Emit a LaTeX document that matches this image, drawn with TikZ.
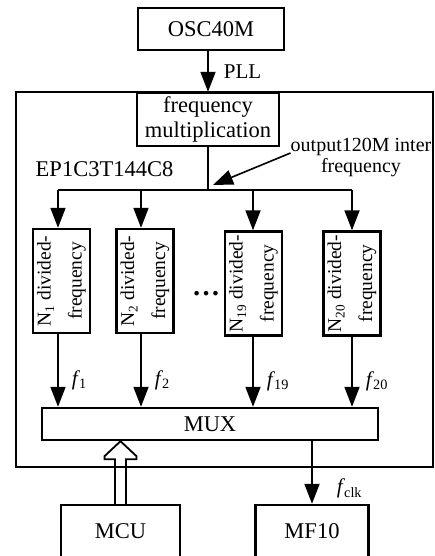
\documentclass[tikz,border=0pt]{standalone}
\usepackage{fontspec}
\usepackage{graphicx}
\setmainfont{Liberation Serif}
\usetikzlibrary{arrows.meta,positioning}
\newcommand\lowsub[1]{\raisebox{-.4ex}{\scalebox{.68}{#1}}}
\begin{document}
\begin{tikzpicture}[x=1pt,y=-1pt,>={Triangle[length=20pt,width=15pt]},
  blk/.style={draw,line width=2.4pt,inner sep=0pt,font=\fontsize{22.5}{25}\selectfont},
  divbox/.style={draw,line width=2.4pt,rotate=90,inner sep=0pt,minimum width=104pt,
    minimum height=57pt,align=center,font=\fontsize{19.5}{31}\selectfont},
  wire/.style={line width=1.8pt},
  lbl/.style={inner sep=0pt,font=\fontsize{21}{25}\selectfont}]
\useasboundingbox (0,0) rectangle (435,556);

% FPGA frame
\node[draw,line width=2.4pt,minimum width=417pt,minimum height=375pt] (chip) at (224.5,279.5) {};
\node[lbl,font=\fontsize{22.5}{25}\selectfont] (chipname) at (104.5,169) {EP1C3T144C8};

\node[blk,minimum width=146pt,minimum height=42pt] (osc) at (211,29) {OSC40M};
\node[blk,minimum width=142pt,minimum height=53pt,align=center] (mult) at (208,119.5) {frequency\\multiplication};
\draw[wire,->] (osc.south -| mult.north) -- (mult.north) node[midway,right=15pt,lbl]{PLL};

% divider boxes
\node[divbox] (n1) at (61.5,281) {N\lowsub{1} divided-\\frequency};
\node[divbox] (n2) at (145,281) {N\lowsub{2} divided-\\frequency};
\node[divbox] (n19) at (253.5,283.5) {N\lowsub{19} divided-\\frequency};
\node[divbox] (n20) at (352,283.5) {N\lowsub{20} divided-\\frequency};
\node[lbl,anchor=base] (dots) at (206,295) {\textbf{\fontsize{28}{28}\selectfont …}};

\coordinate (split) at (208,190);
\coordinate (b1) at (58,190);
\coordinate (b2) at (141,190);
\coordinate (b19) at (253,190);
\coordinate (b20) at (352,190);
\draw[wire] (mult.south) -- (split);
\draw[wire] (b1) -- (b20);
\foreach \n in {1,2,19,20}
  \draw[wire,->] (b\n) -- (b\n |- n\n.east);

\node[lbl,align=center,font=\fontsize{20}{21}\selectfont] (note) at (361,158) {output120M inter\\frequency};
\draw[line width=1.6pt,->] ([yshift=5pt]note.west) -- ([xshift=5pt,yshift=5pt]split);

\node[blk,minimum width=336pt,minimum height=32pt] (mux) at (210,424) {MUX};
\foreach \n in {1,2,19,20}
  \draw[wire,->] (b\n |- n\n.west) -- (b\n |- mux.north)
    node[pos=.63,right=13pt,lbl]{\textit{f}\kern-1pt\lowsub{\n}};

\node[blk,minimum width=119pt,minimum height=52pt] (mcu) at (120.5,531) {MCU};
\node[blk,minimum width=113pt,minimum height=52pt] (mf) at (312,531) {MF10};

% control bus from the MCU
\coordinate (tip) at (mcu.north |- mux.south);
\draw[wire,line join=miter] ([xshift=-5.5pt]mcu.north) -- ([xshift=-5.5pt,yshift=-18pt]tip)
  -- ([xshift=-16pt,yshift=-18pt]tip) -- ([xshift=-16pt,yshift=-15pt]tip) -- (tip)
  -- ([xshift=16pt,yshift=-15pt]tip) -- ([xshift=16pt,yshift=-18pt]tip)
  -- ([xshift=5.5pt,yshift=-18pt]tip) -- ([xshift=5.5pt]mcu.north);

\draw[wire,->] (mux.south -| mf.north) -- (mf.north)
  node[pos=.75,right=24pt,lbl]{\textit{f}\kern-1pt\lowsub{clk}};
\end{tikzpicture}
\end{document}
